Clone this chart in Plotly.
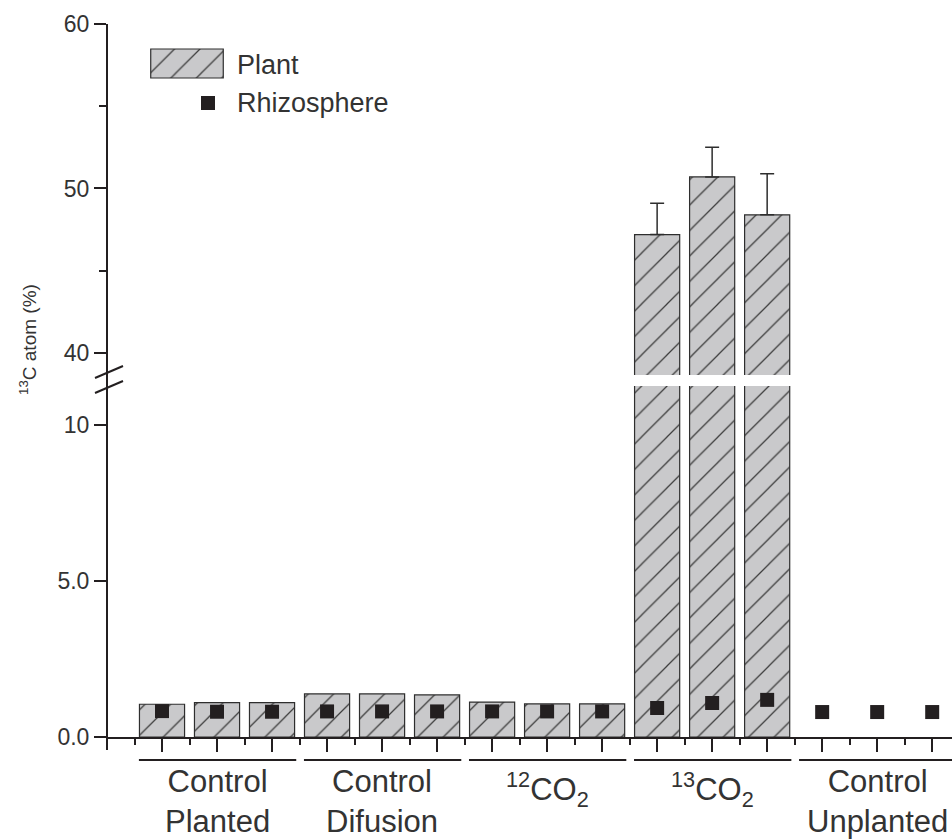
import plotly.graph_objects as go

# ---------------- data ----------------
positions = list(range(1, 16))
plant = [1.05, 1.10, 1.10, 1.38, 1.38, 1.35, 1.12, 1.06, 1.06, 47.2, 50.7, 48.4, None, None, None]
plant_err = [None, None, None, None, None, None, None, None, None, 1.9, 1.8, 2.5, None, None, None]
rhizo = [0.83, 0.81, 0.81, 0.82, 0.82, 0.82, 0.82, 0.82, 0.82, 0.93, 1.09, 1.19, 0.80, 0.80, 0.80]
group_labels = ["Control<br>Planted", "Control<br>Difusion", "<sup>12</sup>CO<sub>2</sub>",
                "<sup>13</sup>CO<sub>2</sub>", "Control<br>Unplanted"]
group_centers = [2, 5, 8, 11, 14]
lower_ticks = [0, 5, 10]
lower_ticktext = ["0.0", "5.0", "10"]
upper_ticks = [40, 50, 60]
upper_ticktext = ["40", "50", "60"]

# ---------------- styling ----------------
W, H = 952, 840
ML, MT, MB = 107, 24, 103
PW, PH = W - ML, H - MT - MB
FONT = "Liberation Sans, Arial, sans-serif"
INK = "#231f20"
TXT = "#333333"
FILL = "#c9c9cb"
HATCH = "#3c3c3c"


def py(p):  # pixel y -> paper y
    return (H - MB - p) / PH


def px(p):  # pixel x -> paper x
    return (p - ML) / PW


lower_dom = [0, py(386)]
upper_dom = [py(375), 1]

pattern = dict(shape="/", fgcolor=HATCH, bgcolor=FILL, size=18, solidity=0.07, fillmode="replace")
bar_common = dict(marker=dict(color=FILL, pattern=pattern, line=dict(color="#2e2e2e", width=1.2)),
                  width=0.82)

fig = go.Figure()
fig.add_trace(go.Bar(x=positions, y=plant, xaxis="x", yaxis="y", showlegend=False, **bar_common))
fig.add_trace(go.Bar(x=positions, y=plant, xaxis="x", yaxis="y2", showlegend=False,
                     error_y=dict(type="data", symmetric=False, array=plant_err,
                                  arrayminus=[0] * len(plant_err), color="#2e2e2e",
                                  thickness=1.5, width=7),
                     **bar_common))
fig.add_trace(go.Scatter(x=positions, y=rhizo, mode="markers", xaxis="x", yaxis="y", showlegend=False,
                         marker=dict(symbol="square", size=14, color=INK)))

# legend swatch (hidden axis)
fig.add_trace(go.Bar(x=[0], y=[1], xaxis="x3", yaxis="y3", showlegend=False, width=1,
                     marker=dict(color=FILL, pattern=pattern, line=dict(color="#2e2e2e", width=1.2))))

tickfont = dict(family=FONT, size=23, color=TXT)
fig.update_layout(
    width=W, height=H,
    margin=dict(l=ML, r=0, t=MT, b=MB),
    paper_bgcolor="white", plot_bgcolor="white",
    bargap=0.18,
    xaxis=dict(domain=[0, 1], range=[0, 15.36], anchor="y", showgrid=False, zeroline=False,
               showline=True, linecolor=INK, linewidth=2,
               tickmode="array", tickvals=positions, showticklabels=False,
               ticks="outside", ticklen=13, tickwidth=2, tickcolor=INK,
               minor=dict(ticks="outside", tick0=0.5, dtick=1, ticklen=6, tickwidth=2, tickcolor=INK)),
    yaxis=dict(domain=lower_dom, range=[0, 11.25], anchor="x", showgrid=False, zeroline=False,
               showline=False, tickmode="array", tickvals=lower_ticks, ticktext=lower_ticktext,
               ticks="outside", ticklen=12, tickwidth=2, tickcolor=INK, tickfont=tickfont),
    yaxis2=dict(domain=upper_dom, range=[38.66, 60], anchor="x", showgrid=False, zeroline=False,
                showline=False, tickmode="array", tickvals=upper_ticks, ticktext=upper_ticktext,
                ticks="outside", ticklen=12, tickwidth=2, tickcolor=INK, tickfont=tickfont,
                minor=dict(ticks="outside", tickvals=[45, 55], ticklen=7, tickwidth=2, tickcolor=INK)),
    xaxis3=dict(domain=[px(150), px(224)], range=[-0.51, 0.51], anchor="y3", visible=False, fixedrange=True),
    yaxis3=dict(domain=[py(79), py(48)], range=[-0.035, 1.035], anchor="x3", visible=False, fixedrange=True),
)

shapes = []
# continuous y-axis line (extends slightly below 0)
shapes.append(dict(type="line", xref="paper", yref="paper", x0=0, x1=0, y0=py(750), y1=1,
                   line=dict(color=INK, width=2)))
# break marks
for (ya, yb) in [(378, 366), (393, 381)]:
    shapes.append(dict(type="line", xref="paper", yref="paper", x0=px(95), x1=px(123),
                       y0=py(ya), y1=py(yb), line=dict(color=INK, width=2)))
# group underlines
for c in group_centers:
    shapes.append(dict(type="line", xref="x", yref="paper", x0=c - 1.42, x1=c + 1.44,
                       y0=py(760), y1=py(760), line=dict(color=INK, width=2)))
# legend square
shapes.append(dict(type="rect", xref="paper", yref="paper", x0=px(201), x1=px(215),
                   y0=py(110), y1=py(96), fillcolor=INK, line=dict(width=0)))
fig.update_layout(shapes=shapes)

ann = []
for c, lab in zip(group_centers, group_labels):
    two = "<br>" in lab
    ann.append(dict(x=c, xref="x", y=py(801 if two else 790), yref="paper", text=lab, showarrow=False,
                    xanchor="center", yanchor="middle",
                    font=dict(family=FONT, size=31, color=TXT)))
ann.append(dict(x=px(235), y=py(65), xref="paper", yref="paper", text="Plant", showarrow=False,
                xanchor="left", yanchor="middle", font=dict(family=FONT, size=27, color=TXT)))
ann.append(dict(x=px(235), y=py(103), xref="paper", yref="paper", text="Rhizosphere", showarrow=False,
                xanchor="left", yanchor="middle", font=dict(family=FONT, size=27, color=TXT)))
ann.append(dict(x=px(28), y=py(340), xref="paper", yref="paper",
                text="<sup>13</sup>C atom (%)", showarrow=False, textangle=-90,
                xanchor="center", yanchor="middle", font=dict(family=FONT, size=19, color=TXT)))
fig.update_layout(annotations=ann)

fig.write_html("out.html", config={"displayModeBar": False},
               post_script="document.body.style.margin='0';document.body.style.overflow='hidden';")
